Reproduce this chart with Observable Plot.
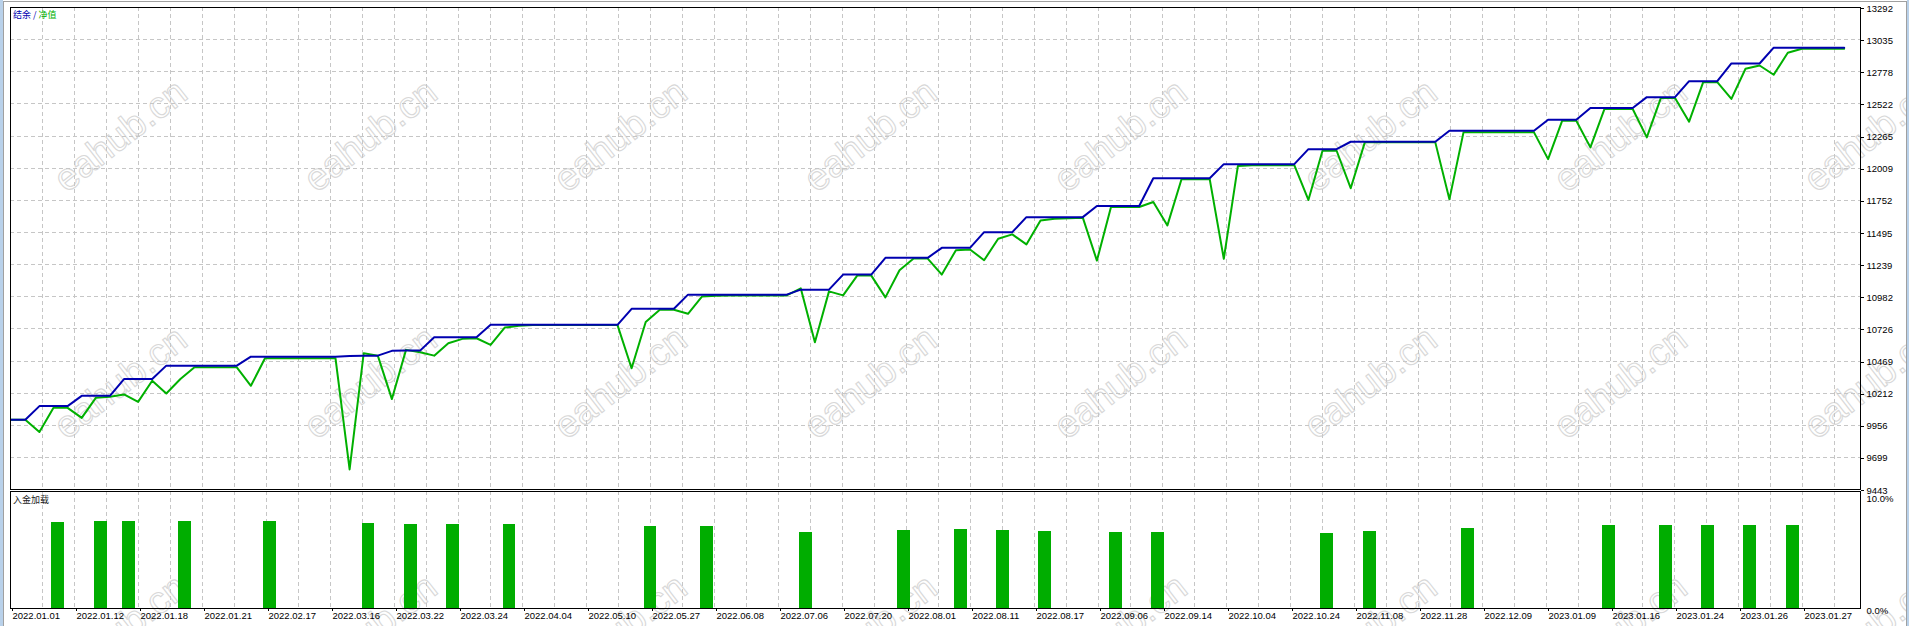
<!DOCTYPE html>
<html>
<head>
<meta charset="utf-8">
<script src="https://cdn.jsdelivr.net/npm/d3@7"></script>
<script src="https://cdn.jsdelivr.net/npm/@observablehq/plot@0.6"></script>
<style>
html, body { margin: 0; padding: 0; background: #fff; }
#wrap { position: relative; width: 1909px; height: 626px; overflow: hidden; background: #fff; }
#wrap > svg { position: absolute; left: 0; top: 0; }
.lbl { position: absolute; font-family: "Noto Sans CJK SC", sans-serif; font-size: 9px; line-height: 10px; white-space: pre; }
.chrome { position: absolute; }
</style>
</head>
<body>
<div id="wrap"></div>
<script>
// ---------------- data ----------------
const seriesNames = ["结余", "净值"];          // balance / equity
const panelLabel = "入金加载";                   // deposit load
const watermarkText = "eahub.cn";

const balance = [
  10000,10000,10109,10109,10109,10191,10191,10191,10325,10325,
  10325,10432,10432,10432,10432,10432,10432,10504,10504,10504,
  10504,10504,10504,10504,10510,10512,10512,10550,10552,10552,
  10659,10659,10659,10659,10758,10758,10758,10758,10758,10758,
  10758,10758,10758,10758,10886,10886,10886,10886,10999,10999,
  10999,10999,10999,10999,10999,10999,11039,11039,11039,11159,
  11159,11159,11293,11293,11293,11293,11373,11373,11373,11498,
  11498,11498,11618,11618,11618,11618,11618,11707,11707,11707,
  11707,11929,11929,11929,11929,11929,12041,12041,12041,12041,
  12041,12041,12161,12161,12161,12220,12220,12220,12220,12220,
  12220,12220,12308,12308,12308,12308,12308,12308,12308,12396,
  12396,12396,12490,12490,12490,12490,12576,12576,12576,12704,
  12704,12704,12845,12845,12845,12971,12971,12971,12971,12971,
  12971
];

const equity = [
  10000,10000,9902,10095,10095,10015,10175,10183,10202,10143,
  10311,10210,10325,10419,10419,10419,10419,10271,10491,10491,
  10491,10491,10491,10491,9603,10531,10512,10165,10558,10539,
  10512,10611,10646,10651,10598,10736,10750,10756,10756,10756,
  10756,10756,10756,10756,10411,10780,10878,10878,10846,10985,
  10991,10993,10993,10993,10993,10993,11049,10619,11025,10993,
  11151,11151,10977,11194,11287,11287,11159,11354,11360,11274,
  11445,11480,11400,11592,11606,11610,11614,11271,11699,11699,
  11699,11739,11552,11921,11921,11921,11285,12027,12033,12033,
  12033,12033,11755,12148,12148,11849,12215,12215,12215,12215,
  12215,12215,11760,12295,12295,12295,12295,12295,12295,12081,
  12388,12388,12175,12482,12482,12482,12255,12570,12570,12380,
  12696,12696,12562,12803,12829,12755,12931,12963,12963,12963,
  12963
];

// deposit load bars: trade index and load in %
const loadTrade = [3, 6, 8, 12, 18, 25, 28, 31, 35, 45, 49, 56, 63, 67, 70, 73, 78, 81, 93, 96, 103, 113, 117, 120, 123, 126];
const loadPct   = [7.32, 7.41, 7.41, 7.41, 7.41, 7.27, 7.19, 7.19, 7.19, 7.02, 7.02, 6.50, 6.68, 6.76, 6.68, 6.59, 6.50, 6.50, 6.42, 6.59, 6.85, 7.11, 7.11, 7.11, 7.11, 7.11];

const yTicks = [9443, 9699, 9956, 10212, 10469, 10726, 10982, 11239, 11495, 11752, 12009, 12265, 12522, 12778, 13035, 13292];
const loadTicks = [0, 10];

const dateLabels = [
  "2022.01.01","2022.01.12","2022.01.18","2022.01.21","2022.02.17","2022.03.16","2022.03.22",
  "2022.03.24","2022.04.04","2022.05.10","2022.05.27","2022.06.08","2022.07.06","2022.07.20",
  "2022.08.01","2022.08.11","2022.08.17","2022.09.06","2022.09.14","2022.10.04","2022.10.24",
  "2022.11.08","2022.11.28","2022.12.09","2023.01.09","2023.01.16","2023.01.24","2023.01.26",
  "2023.01.27"
];

// ---------------- layout ----------------
const W = 1909, H = 626;
const mL = 10, mR = 49;
const PX = 14.1;                 // pixels per trade step
const X0 = -0.05;                // domain start (index units)
const xDomain = [X0, X0 + (W - mL - mR) / PX];
const GRID_PX = 32, LABEL_PX = 64;
const nGrid = Math.floor((W - mL - mR) / GRID_PX);
const gridPositions = d3.range(1, nGrid + 1).map(k => X0 + k * GRID_PX / PX);
const labelPositions = dateLabels.map((_, k) => X0 + k * LABEL_PX / PX);

const BLUE = "#0000b0", GREEN = "#00b000", BAR = "#00ad00";
const gridStyle = {stroke: "#c6c6c6", strokeOpacity: 1, strokeDasharray: "4,3", shapeRendering: "crispEdges"};
const baseStyle = {background: "none", fontFamily: "'Liberation Sans', Arial, sans-serif", fontSize: "9.5px", color: "#000", overflow: "visible"};

const wrap = document.getElementById("wrap");

// watermark layer
const wm = d3.create("svg").attr("width", W).attr("height", H);
const wmRows = [135, 382, 630], wmCols = d3.range(0, 8).map(k => 120 + 250 * k);
for (const ry of wmRows) for (const cx of wmCols) {
  wm.append("text")
    .attr("transform", `translate(${cx},${ry}) rotate(-38)`)
    .attr("text-anchor", "middle").attr("dominant-baseline", "central")
    .attr("font-family", "'Liberation Sans', Arial, sans-serif")
    .attr("font-size", 38)
    .attr("fill", "none").attr("stroke", "#d8d8d8").attr("stroke-width", 1.1)
    .text(watermarkText);
}
wrap.appendChild(wm.node());

// main panel: balance / equity
const main = Plot.plot({
  width: W, height: H,
  marginLeft: mL, marginRight: mR, marginTop: 7, marginBottom: H - 489,
  x: {domain: xDomain, axis: null},
  y: {domain: [yTicks[0], yTicks[yTicks.length - 1]], axis: null},
  style: baseStyle,
  marks: [
    Plot.gridX(gridPositions, gridStyle),
    Plot.gridY(yTicks.slice(1, -1), gridStyle),
    Plot.line(equity, {x: (d, i) => i, y: d => d, stroke: GREEN, strokeWidth: 2}),
    Plot.line(balance, {x: (d, i) => i, y: d => d, stroke: BLUE, strokeWidth: 2}),
    Plot.frame({stroke: "#000", shapeRendering: "crispEdges"}),
    Plot.axisY({ticks: yTicks, anchor: "right", tickSize: 3, tickPadding: 3, dy: 1,
                tickFormat: d => String(d), shapeRendering: "crispEdges"})
  ]
});
wrap.appendChild(main);

// bottom panel: deposit load
const load = Plot.plot({
  width: W, height: H,
  marginLeft: mL, marginRight: mR, marginTop: 491, marginBottom: H - 608,
  x: {domain: xDomain, axis: null},
  y: {domain: loadTicks, axis: null},
  style: baseStyle,
  marks: [
    Plot.gridX(gridPositions, gridStyle),
    Plot.rect(loadTrade, {x1: d => d - 0.12, x2: d => d + 0.8, y1: 0, y2: (d, i) => loadPct[i], fill: BAR, shapeRendering: "crispEdges"}),
    Plot.frame({stroke: "#000", shapeRendering: "crispEdges"}),
    Plot.axisY({ticks: [loadTicks[1]], anchor: "right", tickSize: 0, tickPadding: 6, dy: 7,
                tickFormat: d => d.toFixed(1) + "%"}),
    Plot.axisY({ticks: [loadTicks[0]], anchor: "right", tickSize: 0, tickPadding: 6, dy: 2,
                tickFormat: d => d.toFixed(1) + "%"}),
    Plot.axisX({ticks: labelPositions, anchor: "bottom", tickSize: 3, tickPadding: 1, dx: 2,
                textAnchor: "start",
                tickFormat: d => dateLabels[Math.round((d - X0) * PX / LABEL_PX)],
                shapeRendering: "crispEdges"})
  ]
});
wrap.appendChild(load);

// legend and panel label
const leg = document.createElement("div");
leg.className = "lbl";
leg.style.left = "13px"; leg.style.top = "10px";
leg.innerHTML = `<span style="color:${BLUE}">${seriesNames[0]}</span><span style="color:${BLUE}"> / </span><span style="color:${GREEN}">${seriesNames[1]}</span>`;
wrap.appendChild(leg);

const pl = document.createElement("div");
pl.className = "lbl";
pl.style.left = "13px"; pl.style.top = "495px"; pl.style.color = "#222";
pl.textContent = panelLabel;
wrap.appendChild(pl);

// window chrome (borders of the host window)
const chrome = [
  {l: 0, t: 0, w: 3, h: H, bg: "#b9d1ea"},
  {l: 3, t: 1, w: W - 6, h: 1, bg: "#a0a0a0"},
  {l: 3, t: 1, w: 1, h: H, bg: "#a0a0a0"},
  {l: W - 3, t: 1, w: 1, h: H, bg: "#a0a0a0"},
  {l: W - 2, t: 0, w: 2, h: H, bg: "#b9d1ea"}
];
for (const c of chrome) {
  const d = document.createElement("div");
  d.className = "chrome";
  Object.assign(d.style, {left: c.l + "px", top: c.t + "px", width: c.w + "px", height: c.h + "px", background: c.bg});
  wrap.appendChild(d);
}
</script>
</body>
</html>
